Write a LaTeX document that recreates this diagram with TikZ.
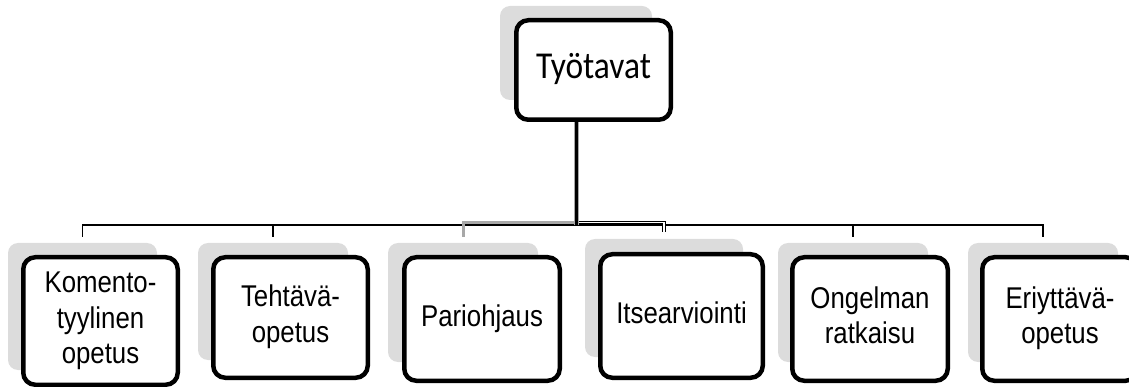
\documentclass[tikz,border=0pt]{standalone}
\usepackage{fontspec}
\newfontfamily\topfont[FakeStretch=0.88]{Carlito}
\newfontfamily\boxfont[FakeStretch=0.86]{Liberation Sans}
\definecolor{shadegray}{HTML}{DCDCDC}
\definecolor{glowgray}{HTML}{A8A8A8}
% centred lines of a box label, lowered by #1
\newcommand\boxlines[2]{\raisebox{#1}{\begin{tabular}{@{}c@{}}#2\end{tabular}}}
\tikzset{
  shadebox/.style={fill=shadegray, draw=none, rounded corners=10pt, inner sep=0pt},
  itembox/.style={draw=black, line width=4.5pt, fill=white, rounded corners=12pt,
    align=center, inner sep=0pt, font=\boxfont\fontsize{30}{35.5}\selectfont},
  headbox/.style={itembox, font=\topfont\fontsize{38}{44}\selectfont},
  bus/.style={draw=black, line width=1.3pt},
  trunkglow/.style={draw=glowgray, line width=5pt},
  trunk/.style={draw=black, line width=3pt},
  greydrop/.style={draw=glowgray, line width=3pt},
  doubledrop/.style={draw=black, line width=0.8pt, double=white, double distance=1.6pt},
}
\begin{document}
\begin{tikzpicture}[x=1pt, y=-1pt]
  \useasboundingbox (0,0) rectangle (1129,387);
  \clip (0,0) rectangle (1129,387);

  % grey backing shapes
  \node[shadebox, minimum width=152pt, minimum height=94pt]  (s0) at (576,53) {};
  \node[shadebox, minimum width=149pt, minimum height=127pt] (s1) at (82.5,306.5) {};
  \node[shadebox, minimum width=150pt, minimum height=117pt] (s2) at (273,301.5) {};
  \node[shadebox, minimum width=150pt, minimum height=119pt] (s3) at (463,302.5) {};
  \node[shadebox, minimum width=158pt, minimum height=118pt] (s4) at (664,298) {};
  \node[shadebox, minimum width=150pt, minimum height=119pt] (s5) at (853,302.5) {};
  \node[shadebox, minimum width=150pt, minimum height=119pt] (s6) at (1043,302.5) {};

  % branching point of the tree
  \coordinate (hub) at (576,225);

  % connectors
  \draw[bus] ([yshift=6pt]s1.north) |- (hub) -| ([yshift=6pt]s6.north);
  \draw[bus] ([yshift=6pt]s2.north) -- (s2.north |- hub);
  \draw[bus] ([yshift=6pt]s5.north) -- (s5.north |- hub);
  \draw[greydrop] ([yshift=6pt]s3.north) |- ([yshift=2pt]hub);
  \draw[doubledrop] ([yshift=7pt]s4.north) |- ([xshift=2pt,yshift=2.5pt]hub);
  \draw[trunkglow] ([xshift=0.8pt]s0.south) -- ([xshift=0.8pt]hub);
  \draw[trunk] (s0.south) -- (hub);

  % boxes
  \node[headbox, minimum width=154.5pt, minimum height=99.5pt] (b0) at (593.5,70) {\boxlines{-3pt}{Työtavat}};
  \node[itembox, minimum width=154.5pt, minimum height=127.5pt] (b1) at (100.5,321) {\boxlines{-6pt}{Komento-\\tyylinen\\opetus}};
  \node[itembox, minimum width=154.5pt, minimum height=120.5pt] (b2) at (290.5,317.5) {\boxlines{-3pt}{Tehtävä-\\opetus}};
  \node[itembox, minimum width=155.5pt, minimum height=123.5pt] (b3) at (482,319) {\boxlines{-2pt}{Pariohjaus}};
  \node[itembox, minimum width=162.5pt, minimum height=123.5pt] (b4) at (681.5,316) {\boxlines{-2pt}{Itsearviointi}};
  \node[itembox, minimum width=155.5pt, minimum height=123.5pt] (b5) at (870,319) {\boxlines{-3.5pt}{Ongelman\\ratkaisu}};
  \node[itembox, minimum width=155.5pt, minimum height=123.5pt] (b6) at (1060,319) {\boxlines{-4pt}{Eriyttävä-\\opetus}};
\end{tikzpicture}
\end{document}
